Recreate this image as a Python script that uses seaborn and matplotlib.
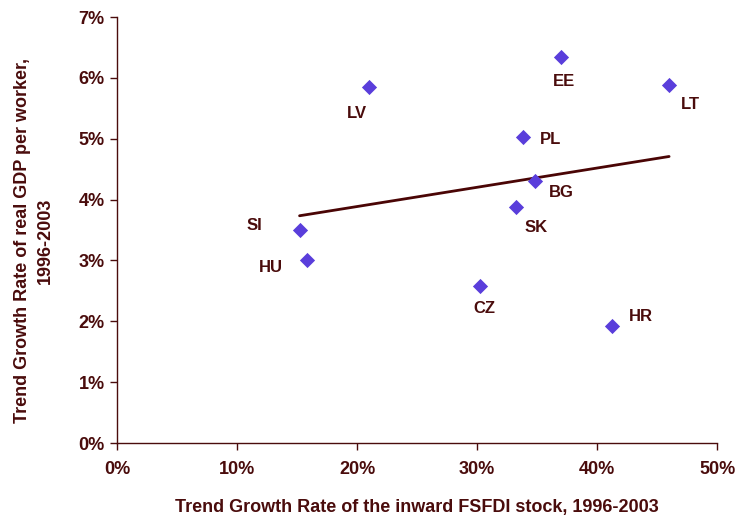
import numpy as np
import pandas as pd
import matplotlib
matplotlib.use("Agg")
import matplotlib.pyplot as plt
import seaborn as sns
from matplotlib.ticker import FuncFormatter

# --- données (en %) ---
countries = ["LV", "EE", "LT", "PL", "BG", "SK", "SI", "HU", "CZ", "HR"]
fdi_growth = [21.0, 37.0, 46.0, 33.8, 34.8, 33.2, 15.2, 15.8, 30.2, 41.2]
gdp_growth = [5.85, 6.34, 5.88, 5.03, 4.30, 3.88, 3.50, 3.01, 2.58, 1.92]
# décalages des étiquettes (pixels)
label_dx = [-12, 3, 21, 28, 27, 21, -45, -36, 5, 29]
label_dy = [-26, -24, -19, -3, -11, -21, 5, -8, -22, 10]

df = pd.DataFrame({"pays": countries, "fdi": fdi_growth, "gdp": gdp_growth})

sns.set_style("white")
plt.rcParams["font.family"] = ["Liberation Sans", "DejaVu Sans"]
plt.rcParams["font.weight"] = "bold"

dark = "#4a0c0c"
pt_col = "#5a3edb"

fig = plt.figure(figsize=(7.37, 5.17), dpi=100)
ax = fig.add_axes([0.159, 0.143, 0.814, 0.824])

sns.regplot(data=df, x="fdi", y="gdp", ci=None, ax=ax, truncate=True, marker="D",
            scatter_kws={"s": 60, "color": pt_col, "alpha": 1, "zorder": 3, "linewidths": 0},
            line_kws={"color": "#4a0505", "lw": 2, "zorder": 2})

for name, x, y, dx, dy in zip(countries, fdi_growth, gdp_growth, label_dx, label_dy):
    ax.annotate(name, (x, y), xytext=(dx, dy), textcoords="offset pixels",
                ha="center", va="center", fontsize=12, fontweight="bold", color=dark)

ax.set_xlim(0, 50)
ax.set_ylim(0, 7)
ax.set_xticks(np.arange(0, 51, 10))
ax.set_yticks(np.arange(0, 8, 1))
ax.xaxis.set_major_formatter(FuncFormatter(lambda v, p: f"{v:.0f}%"))
ax.yaxis.set_major_formatter(FuncFormatter(lambda v, p: f"{v:.0f}%"))

for s in ["top", "right"]:
    ax.spines[s].set_visible(False)
for s in ["left", "bottom"]:
    ax.spines[s].set_color(dark)
    ax.spines[s].set_linewidth(1)
ax.tick_params(axis="both", direction="out", length=5, width=1, color=dark,
               labelcolor=dark, labelsize=13, left=True, bottom=True)
for lab in ax.get_xticklabels() + ax.get_yticklabels():
    lab.set_fontweight("bold")
ax.tick_params(axis="x", pad=8)
ax.tick_params(axis="y", pad=4)

ax.set_xlabel("Trend Growth Rate of the inward FSFDI stock, 1996-2003",
              fontsize=13, fontweight="bold", color=dark, labelpad=15)
ax.set_ylabel("Trend Growth Rate of real GDP per worker,\n1996-2003",
              fontsize=13, fontweight="bold", color=dark, labelpad=18, linespacing=1.4)
ax.yaxis.label.set_y(0.475)

fig.savefig("out.png", dpi=100)
